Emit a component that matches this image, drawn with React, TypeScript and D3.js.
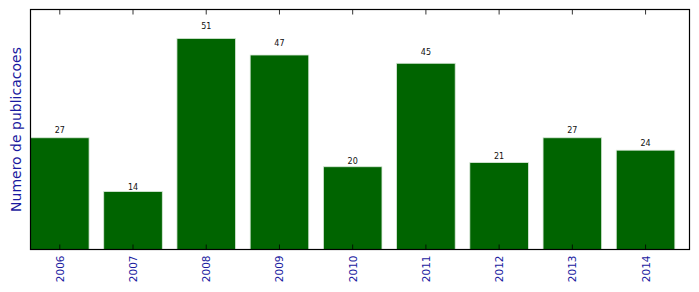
import React from "react";
import * as d3 from "d3";

const years = ["2006", "2007", "2008", "2009", "2010", "2011", "2012", "2013", "2014"];
const counts = [27, 14, 51, 47, 20, 45, 21, 27, 24];
const yLabel = "Numero de publicacoes";

export default function App() {
  const W = 699, H = 292;
  const L = 30.5, R = 689.5, T = 9.5, B = 249.5;
  const x = d3.scaleLinear().domain([-0.4, years.length - 0.4]).range([L, R]);
  const y = d3.scaleLinear().domain([0, 58]).range([B, T]);
  const bw = x(0.8) - x(0);
  const font = "DejaVu Sans, sans-serif";
  return (
    <svg width={W} height={H} style={{ position: "absolute", left: 0, top: 0 }}>
      <rect x={0} y={0} width={W} height={H} fill="white" />
      {counts.map((v, i) => (
        <g key={i}>
          <rect x={x(i - 0.4)} y={y(v)} width={bw} height={B - y(v)} fill="#006400" stroke="#d8e8d8" strokeWidth={0.8} />
          <text x={x(i)} y={y(v * 1.05) + 1} fontSize={8} fontFamily={font} textAnchor="middle" fill="#111">{v}</text>
        </g>
      ))}
      <rect x={L} y={T} width={R - L} height={B - T} fill="none" stroke="#000" strokeWidth={1.2} />
      {years.map((yr, i) => (
        <g key={yr}>
          <line x1={x(i)} x2={x(i)} y1={T} y2={T + 5} stroke="#000" strokeWidth={0.8} />
          <line x1={x(i)} x2={x(i)} y1={B} y2={B - 5} stroke="#000" strokeWidth={0.8} />
          <text transform={`translate(${x(i) + 4},${B + 6}) rotate(-90)`} fontSize={10.5} fontFamily={font} textAnchor="end" fill="#1a1aa0">{yr}</text>
        </g>
      ))}
      <text transform={`translate(21,${(T + B) / 2}) rotate(-90)`} fontSize={14} fontFamily={font} textAnchor="middle" fill="#1a1aa0">{yLabel}</text>
    </svg>
  );
}
